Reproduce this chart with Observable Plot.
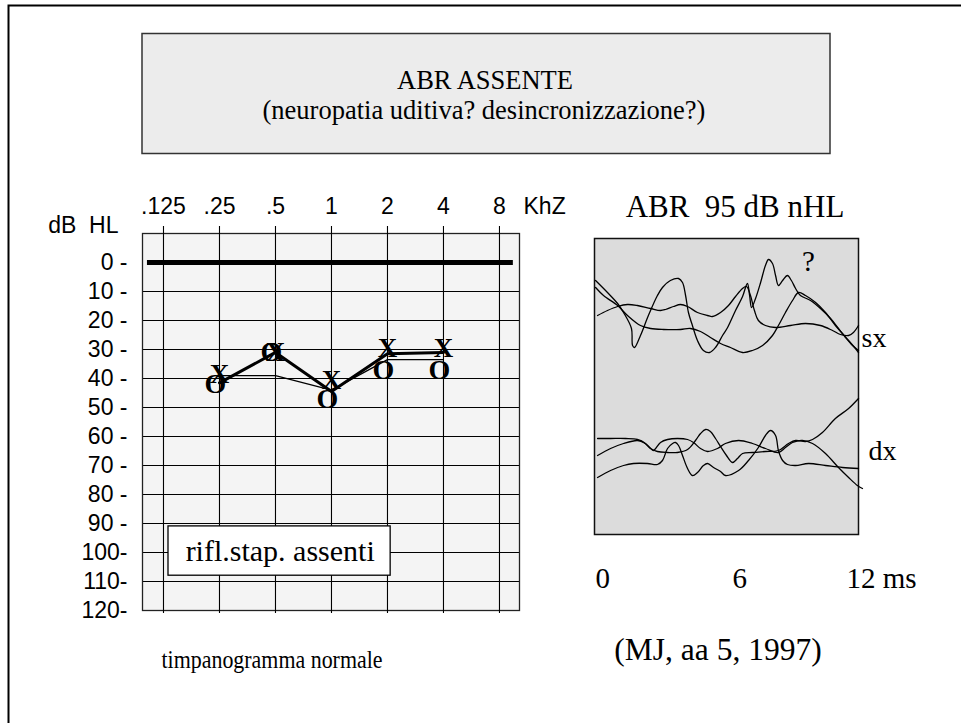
<!DOCTYPE html>
<html><head><meta charset="utf-8">
<script src="https://cdn.jsdelivr.net/npm/d3@7"></script>
<script src="https://cdn.jsdelivr.net/npm/@observablehq/plot@0.6"></script>
<style>
body{margin:0;background:#fff;}
#page{position:relative;width:961px;height:723px;overflow:hidden;background:#fff;}
.layer{position:absolute;}
</style></head><body><div id="page"></div>
<script>
// ---------------- data ----------------
const titleLines = ["ABR ASSENTE", "(neuropatia uditiva? desincronizzazione?)"];
const abrTitle = "ABR\u00a0\u00a095 dB nHL";
const audioCaption = "timpanogramma normale";
const caseCaption = "(MJ, aa 5, 1997)";
const reflexNote = "rifl.stap. assenti";

const freqTicks = [0.125, 0.25, 0.5, 1, 2, 4, 8];
const freqTickLabels = [".125", ".25", ".5", "1", "2", "4", "8"];
const freqUnit = "KhZ";
const dbTicks = [0, 10, 20, 30, 40, 50, 60, 70, 80, 90, 100, 110, 120];
const dbTickLabels = ["0 -", "10 -", "20 -", "30 -", "40 -", "50 -", "60 -", "70 -", "80 -", "90 -", "100-", "110-", "120-"];
const dbGrid = [10, 20, 30, 40, 50, 60, 70, 80, 90, 100, 110];
const dbUnit = "dB\u00a0\u00a0HL";

const testFreqs = [0.25, 0.5, 1, 2, 4];
const thickLineDb = [41.5, 31, 44.5, 31.5, 31];
const thinLineDb = [39, 39, 44, 33.5, 33.5];
const symbolXDb = [38.5, 31, 40.5, 29.5, 29.5];
const symbolODb = [42, 31, 47, 37, 37];
const normalDb = 0;

const abrTicks = [0, 6, 12];
const abrTickLabels = ["0", "6", "12 ms"];
const sideLabels = ["sx", "dx"];

// ABR traces: [latency ms, amplitude (arbitrary units)]
const sx1 = [[0.05,254],[0.59,242],[1.05,231],[1.32,222],[1.68,206],[1.73,189],[1.82,187],[2.09,199],[2.45,219],[2.86,239],[3.09,247],[3.45,254],[3.82,256],[4.0,252],[4.14,239],[4.27,222],[4.45,209],[4.68,194],[4.95,184],[5.23,182],[5.5,187],[5.82,199],[6.05,207],[6.41,224],[6.73,238],[6.95,251],[7.05,239],[7.14,227],[7.32,236],[7.55,252],[7.77,269],[7.91,275],[8.09,271],[8.23,259],[8.36,249],[8.55,254],[8.77,259],[8.95,254],[9.14,246],[9.36,239],[9.82,234],[10.27,226],[10.73,216],[11.09,206],[11.41,197],[11.73,189],[12.0,184]];
const sx2 = [[0.05,247],[0.41,239],[1.05,229],[1.5,219],[2.09,209],[2.55,206],[3.14,205],[3.91,205],[4.36,206],[4.82,203],[5.27,197],[5.73,191],[6.18,187],[6.73,182],[7.18,184],[7.64,189],[8.09,199],[8.36,209],[8.68,222],[9.0,234],[9.27,242],[9.59,239],[10.05,232],[10.5,222],[10.95,209],[11.27,201],[11.55,194],[11.86,186],[12.0,182]];
const sx3 = [[0.14,219],[0.59,224],[1.05,228],[1.5,230],[1.95,229],[2.55,226],[3.0,224],[3.23,225],[3.59,228],[3.91,230],[4.23,228],[4.68,222],[5.14,219],[5.36,218],[5.73,222],[6.09,229],[6.41,238],[6.73,246],[6.91,248],[7.09,239],[7.27,224],[7.45,214],[7.77,209],[8.23,207],[8.91,209],[9.59,211],[10.27,209],[10.82,204],[11.18,200],[11.55,199],[11.77,202],[12.0,209]];
const dx1 = [[0.14,96],[0.73,96],[1.41,96],[1.95,95],[2.32,91],[2.55,86],[2.86,83],[3.32,82],[3.77,82],[4.23,85],[4.59,94],[4.82,101],[5.05,105],[5.27,103],[5.5,96],[5.73,88],[6.0,79],[6.27,72],[6.5,76],[6.73,81],[7.18,82],[7.77,83],[8.36,84],[8.82,91],[9.14,94],[9.59,93],[9.91,95],[10.36,102],[10.95,116],[11.55,126],[12.0,136]];
const dx2 = [[0.14,79],[0.73,86],[1.32,91],[1.95,94],[2.23,92],[2.55,86],[2.68,84],[3.0,92],[3.32,95],[3.77,96],[4.23,95],[4.5,92],[4.82,86],[5.14,83],[5.59,86],[5.95,91],[6.55,94],[7.18,91],[7.77,86],[8.36,82],[8.68,87],[9.0,92],[9.45,94],[9.91,91],[10.5,81],[11.09,67],[11.55,57],[11.95,49],[12.18,46]];
const dx3 = [[0.14,57],[0.73,64],[1.32,69],[1.77,71],[2.41,71],[2.86,70],[3.09,74],[3.32,86],[3.55,91],[3.68,92],[3.82,89],[4.0,79],[4.23,66],[4.45,59],[4.68,62],[4.95,69],[5.14,71],[5.41,67],[5.73,63],[5.95,59],[6.55,64],[7.0,74],[7.45,87],[7.77,99],[8.0,104],[8.23,99],[8.36,84],[8.55,74],[8.77,70],[9.14,69],[9.73,71],[10.5,69],[11.27,67],[12.0,66]];

// ---------------- drawing ----------------
const SANS = "'Liberation Sans', Arial, sans-serif";
const SERIF = "'Liberation Serif', 'Times New Roman', serif";
const page = document.getElementById("page");

// decorations (slide frame, title box, captions)
const deco = d3.select(page).append("svg").attr("class", "layer")
  .attr("width", 961).attr("height", 723).style("left", "0px").style("top", "0px");
deco.append("path").attr("d", "M8.5,723V5.5H961").attr("fill", "none").attr("stroke", "#000").attr("stroke-width", 2);
deco.append("rect").attr("x", 142).attr("y", 33.5).attr("width", 688).attr("height", 120)
  .attr("fill", "#ececec").attr("stroke", "#333").attr("stroke-width", 1.5);
const serifText = (t, x, y, size) => deco.append("text").attr("x", x).attr("y", y)
  .attr("text-anchor", "middle").attr("font-family", SERIF).attr("font-size", size)
  .style("white-space", "pre").text(t);
serifText(titleLines[0], 485, 89, 26.5);
serifText(titleLines[1], 484, 119, 26.5);
serifText(abrTitle, 735, 217, 31);
serifText(audioCaption, 272, 668, 24.5).attr("textLength", 221).attr("lengthAdjust", "spacingAndGlyphs");
serifText(caseCaption, 718, 660, 31.5);

function place(node, left, top, w) {
  const d = document.createElement("div");
  d.className = "layer";
  d.style.left = left + "px"; d.style.top = top + "px"; d.style.width = w + "px";
  d.appendChild(node);
  page.appendChild(d);
}

// audiogram
const fLabel = new Map(freqTicks.map((f, i) => [f, freqTickLabels[i]]));
const dbLabel = new Map(dbTicks.map((v, i) => [v, dbTickLabels[i]]));
const thick = testFreqs.map((f, i) => ({f, db: thickLineDb[i]}));
const thin = testFreqs.map((f, i) => ({f, db: thinLineDb[i]}));
const symX = testFreqs.map((f, i) => ({f, db: symbolXDb[i]}));
const symO = testFreqs.map((f, i) => ({f, db: symbolODb[i]}));

const audio = Plot.plot({
  width: 560, height: 460,
  marginLeft: 142, marginRight: 41, marginTop: 53, marginBottom: 30,
  style: {fontFamily: SANS, fontSize: "23px", background: "transparent", overflow: "visible", color: "#000"},
  x: {type: "log", base: 2, domain: [0.0964, 10.25]},
  y: {domain: [-10, 120], reverse: true},
  marks: [
    Plot.frame({fill: "#f4f4f4", stroke: "none"}),
    Plot.ruleY(dbGrid, {stroke: "#000", strokeWidth: 1.1}),
    Plot.ruleX(freqTicks, {stroke: "#000", strokeWidth: 1.1}),
    Plot.frame({stroke: "#222", strokeWidth: 1.3}),
    Plot.axisX({anchor: "top", ticks: freqTicks, tickSize: 8, tickPadding: 12, tickFormat: d => fLabel.get(d), label: null, fontSize: 23, strokeWidth: 1.1}),
    Plot.axisX({anchor: "bottom", ticks: freqTicks, tickSize: 3, tickFormat: () => "", label: null, strokeWidth: 1.1}),
    Plot.axisY({ticks: dbTicks, tickSize: 0, tickPadding: 15, tickFormat: d => dbLabel.get(d), label: null, fontSize: 23}),
    Plot.text([dbUnit], {text: d => d, frameAnchor: "top-left", textAnchor: "end", lineAnchor: "bottom", dx: -24, dy: -1, fontSize: 23}),
    Plot.text([freqUnit], {text: d => d, frameAnchor: "top-right", textAnchor: "start", lineAnchor: "bottom", dx: 4, dy: -20, fontSize: 23}),
    Plot.ruleY([normalDb], {y: d => d, x1: 0.1025, x2: 9.5, stroke: "#000", strokeWidth: 5}),
    Plot.line(thin, {x: "f", y: "db", stroke: "#000", strokeWidth: 1.2}),
    Plot.line(thick, {x: "f", y: "db", stroke: "#000", strokeWidth: 3, strokeLinejoin: "round"}),
    Plot.text(symO, {x: "f", y: "db", text: () => "O", dx: -4, fontFamily: SERIF, fontWeight: "bold", fontSize: 28, lineAnchor: "middle"}),
    Plot.text(symX, {x: "f", y: "db", text: () => "X", fontFamily: SERIF, fontWeight: "bold", fontSize: 27, lineAnchor: "middle"}),
    Plot.rect([reflexNote], {x1: 0.133, x2: 2.08, y1: 91, y2: 108, fill: "#fff", stroke: "#000", strokeWidth: 1.3}),
    Plot.text([reflexNote], {text: d => d, x: 0.53, y: 99.5, fontFamily: SERIF, fontSize: 30, lineAnchor: "middle"})
  ]
});
place(audio, 0, 180, 560);

// ABR traces
const traces = [sx1, sx2, sx3, dx1, dx2, dx3];
const abrTickDx = [1, 6, -12];
const abr = Plot.plot({
  width: 401, height: 400,
  marginLeft: 34, marginRight: 103, marginTop: 38, marginBottom: 66,
  style: {fontFamily: SERIF, fontSize: "28px", background: "transparent", overflow: "visible", color: "#000"},
  x: {domain: [0, 12], axis: null},
  y: {domain: [0, 296], axis: null},
  marks: [
    Plot.frame({fill: "#dcdcdc", stroke: "#111", strokeWidth: 1.5}),
    ...traces.map(t => Plot.line(t, {x: d => d[0], y: d => d[1], curve: "catmull-rom", stroke: "#000", strokeWidth: 1.3})),
    ...abrTicks.map((t, i) => Plot.text([t], {x: d => d, text: () => abrTickLabels[i], frameAnchor: "bottom", textAnchor: "start", lineAnchor: "bottom", dx: abrTickDx[i], dy: 53, fontSize: 29})),
    Plot.text(["?"], {text: d => d, frameAnchor: "top-left", textAnchor: "middle", lineAnchor: "bottom", dx: 214, dy: 32, fontSize: 29}),
    Plot.text([sideLabels[0]], {text: d => d, frameAnchor: "top-right", textAnchor: "start", lineAnchor: "bottom", dx: 3, dy: 108, fontSize: 28}),
    Plot.text([sideLabels[1]], {text: d => d, frameAnchor: "top-right", textAnchor: "start", lineAnchor: "bottom", dx: 10, dy: 221, fontSize: 28})
  ]
});
place(abr, 560, 200, 401);
</script></body></html>
